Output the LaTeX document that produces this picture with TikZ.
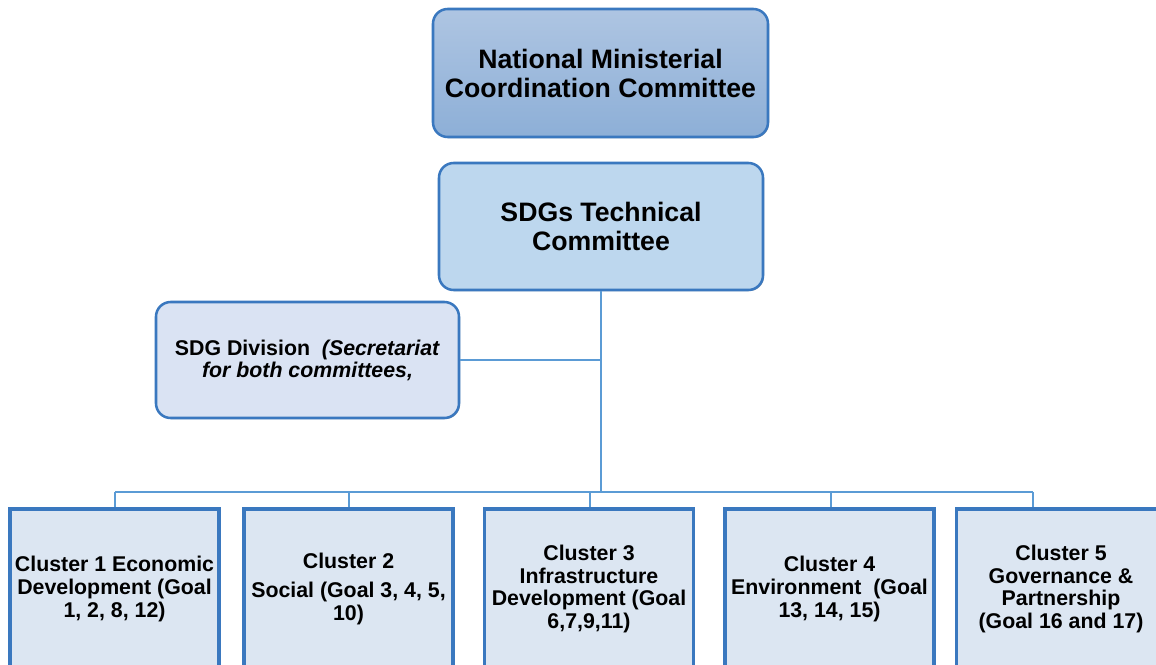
\documentclass[tikz,border=0pt]{standalone}
\usepackage{fontspec}
\setmainfont{Liberation Sans}
\usetikzlibrary{shadows}
\definecolor{nmcctop}{HTML}{AEC5E2}
\definecolor{nmccbot}{HTML}{8DAFD7}
\definecolor{techfill}{HTML}{BDD7EE}
\definecolor{divfill}{HTML}{DAE3F3}
\definecolor{clusterfill}{HTML}{DCE6F2}
\definecolor{boxline}{HTML}{3A78BF}
\definecolor{linkline}{HTML}{5B9BD5}
\tikzset{
  softshadow/.style={drop shadow={shadow xshift=.8pt, shadow yshift=-.8pt, opacity=.45, fill=black!70}},
  headbox/.style={draw=boxline, line width=1.9pt, rounded corners=11pt, align=center, inner sep=0pt,
    softshadow, font=\fontsize{20pt}{21.75pt}\selectfont\bfseries},
  divbox/.style={draw=boxline, line width=1.9pt, rounded corners=11pt, align=center, inner sep=0pt,
    fill=divfill, softshadow, minimum width=227.25pt, minimum height=87pt,
    font=\fontsize{16pt}{16.5pt}\selectfont\bfseries},
  clusterbox/.style={draw=boxline, line width=2.6pt, align=center, inner sep=0pt,
    fill=clusterfill, softshadow, minimum width=156.75pt, minimum height=120pt,
    font=\fontsize{16pt}{17.2pt}\selectfont\bfseries},
  link/.style={draw=linkline, line width=1.6pt}
}
\begin{document}
\begin{tikzpicture}[x=0.75pt, y=-0.75pt]
\useasboundingbox (0,0) rectangle (1156,664);
\clip (0,0) rectangle (1156,664);
\node[headbox, top color=nmcctop, bottom color=nmccbot, minimum width=251.25pt, minimum height=96pt] (nmcc) at (600.5,73){National Ministerial\\Coordination Committee};
\node[headbox, fill=techfill, minimum width=243pt, minimum height=95.25pt] (tech) at (601,226.5){SDGs Technical\\Committee};
\node[divbox] (sdgdiv) at (307.5,360){SDG Division~~\textit{(Secretariat}\\\textit{for both committees,}};
\node[clusterbox] (cl1) at (114.5,589){Cluster 1 Economic\\Development (Goal\\1, 2, 8, 12)};
\node[clusterbox] (cl2) at (348.5,589){Cluster 2\\[5pt]Social (Goal 3, 4, 5,\\10)};
\node[clusterbox] (cl3) at (589,589){Cluster 3\\Infrastructure\\Development (Goal\\6,7,9,11)};
\node[clusterbox] (cl4) at (829.5,589){Cluster 4\\Environment~~(Goal\\13, 14, 15)};
\node[clusterbox] (cl5) at (1061,589){Cluster 5\\Governance \&\\Partnership\\(Goal 16 and 17)};
\coordinate (trunk) at (601,492);
\coordinate (busleft) at (115,492);
\coordinate (busright) at (1033,492);
\coordinate (drop2) at (349,492);
\coordinate (drop3) at (590,492);
\coordinate (drop4) at (831,492);
\draw[link](tech.south) -- (trunk);
\draw[link](sdgdiv.east) -- (sdgdiv.east -| tech.south);
\draw[link](busleft) -- (busright);
\draw[link](busleft) -- (busleft |- cl1.north);
\draw[link](drop2) -- (drop2 |- cl2.north);
\draw[link](drop3) -- (drop3 |- cl3.north);
\draw[link](drop4) -- (drop4 |- cl4.north);
\draw[link](busright) -- (busright |- cl5.north);
\end{tikzpicture}
\end{document}
